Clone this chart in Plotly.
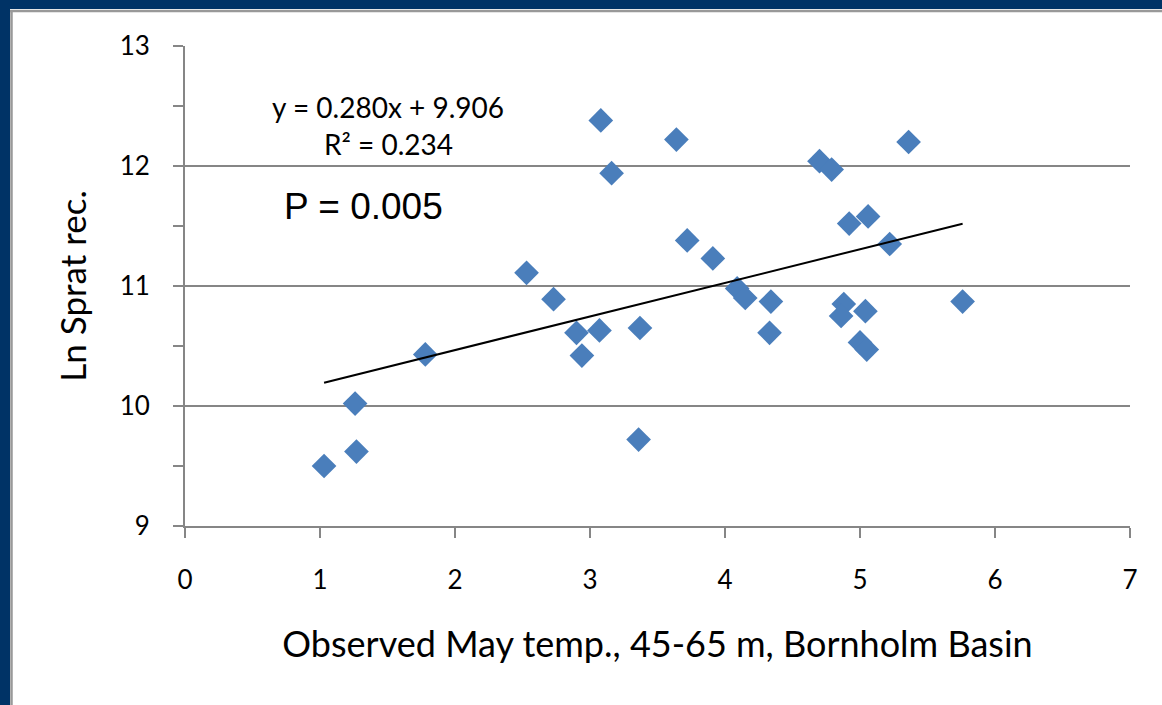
import plotly.graph_objects as go

# ---- data ----
temp_may = [1.03, 1.26, 1.27, 1.78, 2.53, 2.73, 2.90, 2.94, 3.07, 3.08, 3.16, 3.37,
            3.36, 3.64, 3.72, 3.91, 4.09, 4.15, 4.34, 4.33, 4.70, 4.79, 4.92, 5.06,
            4.88, 4.86, 5.04, 5.00, 5.05, 5.22, 5.36, 5.76]
ln_sprat = [9.50, 10.02, 9.62, 10.43, 11.11, 10.89, 10.61, 10.42, 10.63, 12.38, 11.94, 10.65,
            9.72, 12.22, 11.38, 11.23, 10.98, 10.90, 10.87, 10.61, 12.04, 11.97, 11.52, 11.58,
            10.85, 10.75, 10.79, 10.53, 10.47, 11.35, 12.20, 10.87]
trend_slope = 0.280
trend_intercept = 9.906
r_squared = 0.234
p_value = 0.005

x_title = "Observed May temp., 45-65 m, Bornholm Basin"
y_title = "Ln Sprat rec."

# ---- layout geometry ----
W, H = 1162, 705
L, R, T, B = 185, 32, 46, 179
PW, PH = W - L - R, H - T - B


def px_x(px):
    return (px - L) / PW


def px_y(py):
    return (H - B - py) / PH


FONT = "Lato, Carlito, Calibri, sans-serif"
GRID = "#868686"
BLUE = "#4A7EBB"

fig = go.Figure()
fig.add_trace(go.Scatter(
    x=temp_may, y=ln_sprat, mode="markers",
    marker=dict(symbol="diamond", size=19, color=BLUE, line=dict(width=0)),
    showlegend=False, hoverinfo="x+y"))

xmin, xmax = min(temp_may), max(temp_may)
fig.add_trace(go.Scatter(
    x=[xmin, xmax],
    y=[trend_slope * xmin + trend_intercept, trend_slope * xmax + trend_intercept],
    mode="lines", line=dict(color="black", width=2), showlegend=False, hoverinfo="skip"))

fig.update_layout(
    width=W, height=H,
    margin=dict(l=L, r=R, t=T, b=B, autoexpand=False),
    paper_bgcolor="white", plot_bgcolor="white",
    font=dict(family=FONT, color="black"),
    xaxis=dict(range=[0, 7], dtick=1, tick0=0, showgrid=False, zeroline=False,
               showline=True, linecolor=GRID, linewidth=2,
               ticks="outside", ticklen=10, tickwidth=2, tickcolor=GRID,
               tickfont=dict(size=26, family=FONT), ticklabelstandoff=20,
               title=dict(text=x_title, font=dict(size=36, family=FONT), standoff=38)),
    yaxis=dict(range=[9, 13], dtick=1, tick0=9, showgrid=True, gridcolor=GRID, gridwidth=2,
               zeroline=False, showline=True, linecolor=GRID, linewidth=2,
               ticks="outside", ticklen=10, tickwidth=2, tickcolor=GRID,
               minor=dict(dtick=0.5, ticks="outside", ticklen=10, tickwidth=2,
                          tickcolor=GRID, showgrid=False),
               tickfont=dict(size=26, family=FONT), ticklabelstandoff=18,
               title=dict(text=y_title, font=dict(size=35, family=FONT), standoff=22)),
)

# frame: dark-blue border on the left and top, thin grey inner line
shapes = [
    dict(type="rect", xref="paper", yref="paper", x0=px_x(0), x1=px_x(10),
         y0=px_y(H), y1=px_y(0), fillcolor="#003366", line=dict(width=0)),
    dict(type="rect", xref="paper", yref="paper", x0=px_x(0), x1=px_x(W),
         y0=px_y(9), y1=px_y(0), fillcolor="#003366", line=dict(width=0)),
    dict(type="line", xref="paper", yref="paper", x0=px_x(11.5), x1=px_x(11.5),
         y0=px_y(10), y1=px_y(H), line=dict(color="#999999", width=2.5)),
    dict(type="line", xref="paper", yref="paper", x0=px_x(10), x1=px_x(W),
         y0=px_y(11), y1=px_y(11), line=dict(color="#999999", width=2.5)),
]
fig.update_layout(shapes=shapes)

fig.add_annotation(x=1.504, y=12.49, xref="x", yref="y", showarrow=False,
                   text=f"y = {trend_slope:.3f}x + {trend_intercept:.3f}",
                   font=dict(size=28, family=FONT), xanchor="center", yanchor="middle")
fig.add_annotation(x=1.504, y=12.18, xref="x", yref="y", showarrow=False,
                   text=f"R² = {r_squared:.3f}",
                   font=dict(size=28, family=FONT), xanchor="center", yanchor="middle")
fig.add_annotation(x=1.319, y=11.66, xref="x", yref="y", showarrow=False,
                   text=f"P = {p_value:.3f}",
                   font=dict(size=37, family="Liberation Sans, Arial, sans-serif"),
                   xanchor="center", yanchor="middle")

fig.write_html("out.html", config={"displayModeBar": False},
               post_script="document.body.style.margin='0px';document.body.style.overflow='hidden';")
